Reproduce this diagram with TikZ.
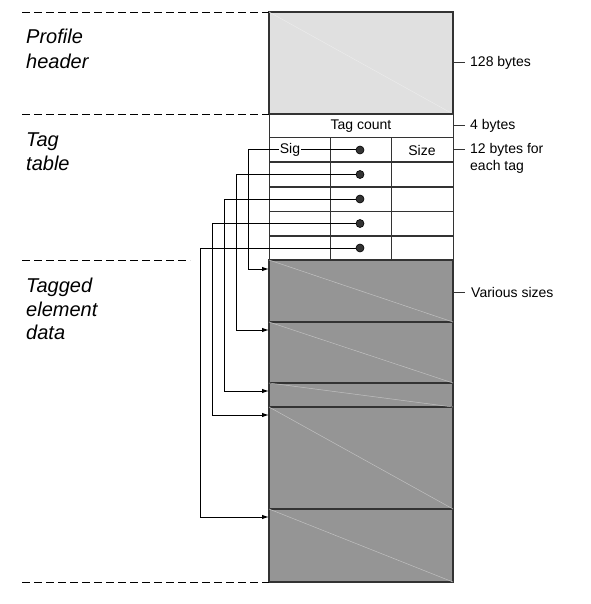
\documentclass[tikz,border=0pt]{standalone}
\usepackage{fontspec}
\setmainfont{Liberation Sans}
\usetikzlibrary{arrows.meta}
\definecolor{boxline}{HTML}{333333}
\definecolor{hdrfill}{HTML}{E0E0E0}
\definecolor{datafill}{HTML}{959595}
\begin{document}
\begin{tikzpicture}[x=1pt,y=-1pt,
  cell/.style={draw=boxline,line width=1pt,inner sep=0pt,outer sep=0pt,anchor=north west},
  blk/.style={draw=boxline,line width=1.2pt,fill=datafill,inner sep=0pt,outer sep=0pt,anchor=north west,minimum width=184pt},
  faint/.style={line width=0.5pt},
  dashline/.style={line width=0.8pt,dash pattern=on 8pt off 4pt},
  conn/.style={line width=1pt,black},
  arr/.style={conn,-{Latex[length=7pt,width=4.5pt]}},
  dotn/.style={circle,draw=black,fill=boxline,line width=0.6pt,inner sep=0pt,minimum size=8pt},
  big/.style={font=\fontsize{20}{24}\selectfont\itshape,anchor=base west,inner sep=0pt},
  lab/.style={font=\fontsize{14}{17}\selectfont,inner sep=0pt},
  tick/.style={line width=1pt,boxline}]
\useasboundingbox (0,0) rectangle (590,604);
% header
\node[cell,fill=hdrfill,line width=1.2pt,minimum width=184pt,minimum height=102pt] (hdr) at (269,12) {};
\draw[faint,white!92!black] (hdr.north west) -- (hdr.south east);
% tag count
\node[cell,minimum width=184pt,minimum height=24pt] (tc) at (269,114) {};
\node[lab] (tctext) at (361,126) {Tag count};
% table rows
\foreach \i/\y in {1/138,2/162,3/187,4/211,5/236}{
  \node[cell,minimum width=61pt,minimum height=24.5pt] (s\i) at (269,\y) {};
  \node[cell,minimum width=61pt,minimum height=24.5pt] (o\i) at (330,\y) {};
  \node[cell,minimum width=62pt,minimum height=24.5pt] (z\i) at (391,\y) {};
}
\node[lab,fill=white,inner xsep=1pt] (sig) at (290,150) {Sig};
\node[lab] (size) at (422,150) {Size};
% data blocks
\node[blk,minimum height=62pt] (b1) at (269,260) {};
\node[blk,minimum height=61pt] (b2) at (269,322) {};
\node[blk,minimum height=24pt] (b3) at (269,383) {};
\node[blk,minimum height=102pt] (b4) at (269,407) {};
\node[blk,minimum height=73pt] (b5) at (269,509) {};
\foreach \b in {b1,b2,b3,b4,b5}{
  \draw[faint,white!40!datafill] (\b.north west) -- (\b.south east);
}
% dots
\foreach \i/\y in {1/150,2/174.5,3/199,4/223.5,5/248}{
  \node[dotn] (d\i) at (360,\y) {};
}
% arrow targets and bends
\coordinate (t1) at (269,269);
\coordinate (t2) at (269,330);
\coordinate (t3) at (269,391);
\coordinate (t4) at (269,415);
\coordinate (t5) at (269,517);
\coordinate (k1) at (248.5,269);
\coordinate (k2) at (236,330);
\coordinate (k3) at (224.5,391);
\coordinate (k4) at (212,415);
\coordinate (k5) at (200.5,517);
% connectors
\draw[conn] (sig) -- (d1);
\draw[arr] (sig.west) -| (k1) -- (t1);
\foreach \i in {2,3,4,5}{
  \draw[arr] (d\i.west) -| (k\i) -- (t\i);
}
% dashed separators
\coordinate (l1) at (22,12);
\coordinate (l2) at (22,114);
\coordinate (l3) at (22,260);
\coordinate (l3e) at (190,260);
\coordinate (l4) at (22,582);
\draw[dashline] (l1) -- (hdr.north west);
\draw[dashline] (l2) -- (hdr.south west);
\draw[dashline] (l3) -- (l3e);
\draw[dashline] (l4) -- (b5.south west);
% left labels
\node[big] (p1) at (26,44) {Profile};
\node[big] (p2) at (26,68.5) {header};
\node[big] (q1) at (26,146.5) {Tag};
\node[big] (q2) at (26,170.5) {table};
\node[big] (r1) at (26,292.5) {Tagged};
\node[big] (r2) at (26,316) {element};
\node[big] (r3) at (26,339.5) {data};
% right labels
\coordinate (e1) at (465,63);
\coordinate (e2) at (465,126);
\coordinate (e3) at (465,150);
\coordinate (e4) at (465,292);
\draw[tick] (453,63) -- (e1);
\draw[tick] (453,126) -- (e2);
\draw[tick] (453,150) -- (e3);
\draw[tick] (453,292) -- (e4);
\node[lab,anchor=west] (m1) at (470,63) {128 bytes};
\node[lab,anchor=west] (m2) at (470,126) {4 bytes};
\node[lab,anchor=north west,align=left] (m3) at (470,143.5) {12 bytes for\\each tag};
\node[lab,anchor=west] (m4) at (471,292) {Various sizes};
\end{tikzpicture}
\end{document}
